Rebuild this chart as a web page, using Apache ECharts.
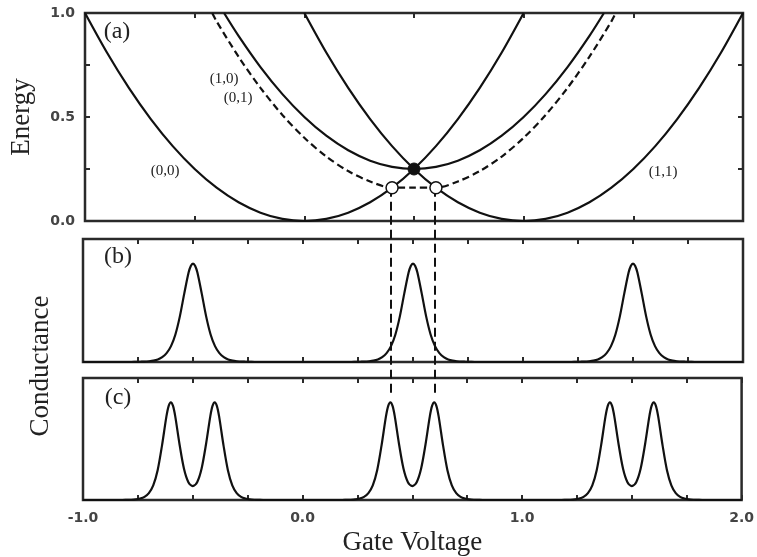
<!DOCTYPE html>
<html><head><meta charset="utf-8">
<script src="https://cdn.jsdelivr.net/npm/echarts@6/dist/echarts.min.js"></script>
<style>html,body{margin:0;padding:0;background:#fff}#c{width:757px;height:557px}</style>
</head><body><div id="c"></div>
<script>
// Panel (a): energy parabolas [gate voltage, energy]
const curve00 = [[-1.0,1.00],[-0.9,0.81],[-0.8,0.64],[-0.7,0.49],[-0.6,0.36],[-0.5,0.25],[-0.4,0.16],[-0.3,0.09],[-0.2,0.04],[-0.1,0.01],[0.0,0.00],[0.1,0.01],[0.2,0.04],[0.3,0.09],[0.4,0.16],[0.5,0.25],[0.6,0.36],[0.7,0.49],[0.8,0.64],[0.9,0.81],[1.0,1.00]];
const curve11 = [[0.0,1.00],[0.1,0.81],[0.2,0.64],[0.3,0.49],[0.4,0.36],[0.5,0.25],[0.6,0.16],[0.7,0.09],[0.8,0.04],[0.9,0.01],[1.0,0.00],[1.1,0.01],[1.2,0.04],[1.3,0.09],[1.4,0.16],[1.5,0.25],[1.6,0.36],[1.7,0.49],[1.8,0.64],[1.9,0.81],[2.0,1.00]];
const curve10 = [[-0.366,1.00],[-0.3,0.89],[-0.2,0.74],[-0.1,0.61],[0.0,0.50],[0.1,0.41],[0.2,0.34],[0.3,0.29],[0.4,0.26],[0.5,0.25],[0.6,0.26],[0.7,0.29],[0.8,0.34],[0.9,0.41],[1.0,0.50],[1.1,0.61],[1.2,0.74],[1.3,0.89],[1.366,1.00]];
const curve01 = [[-0.42,1.00],[-0.4,0.96],[-0.3,0.79],[-0.2,0.64],[-0.1,0.51],[0.0,0.40],[0.1,0.31],[0.2,0.24],[0.3,0.19],[0.4,0.16],[0.5,0.16],[0.6,0.16],[0.7,0.19],[0.8,0.24],[0.9,0.31],[1.0,0.40],[1.1,0.51],[1.2,0.64],[1.3,0.79],[1.4,0.96],[1.42,1.00]];
const filledPoints = [[0.5,0.25]];
const openPoints = [[0.4,0.16],[0.6,0.16]];
// connectors (overlay scale, energy units continued below panel a)
const connectorLeft = [[0.4,0.16],[0.4,-0.85]];
const connectorRight = [[0.6,0.16],[0.6,-0.85]];
// Panel (b): conductance, single peaks
const condB = [[-1.0,0],[-0.78,0],[-0.76,0.001],[-0.74,0.002],[-0.72,0.003],[-0.70,0.006],[-0.68,0.011],[-0.66,0.021],[-0.64,0.039],[-0.62,0.072],[-0.60,0.129],[-0.58,0.224],[-0.56,0.369],[-0.54,0.554],[-0.52,0.727],[-0.51,0.781],[-0.50,0.800],[-0.49,0.781],[-0.48,0.727],[-0.46,0.554],[-0.44,0.369],[-0.42,0.224],[-0.40,0.129],[-0.38,0.072],[-0.36,0.039],[-0.34,0.021],[-0.32,0.011],[-0.30,0.006],[-0.28,0.003],[-0.26,0.002],[-0.24,0.001],[-0.22,0],
 [0.22,0],[0.24,0.001],[0.26,0.002],[0.28,0.003],[0.30,0.006],[0.32,0.011],[0.34,0.021],[0.36,0.039],[0.38,0.072],[0.40,0.129],[0.42,0.224],[0.44,0.369],[0.46,0.554],[0.48,0.727],[0.49,0.781],[0.50,0.800],[0.51,0.781],[0.52,0.727],[0.54,0.554],[0.56,0.369],[0.58,0.224],[0.60,0.129],[0.62,0.072],[0.64,0.039],[0.66,0.021],[0.68,0.011],[0.70,0.006],[0.72,0.003],[0.74,0.002],[0.76,0.001],[0.78,0],
 [1.22,0],[1.24,0.001],[1.26,0.002],[1.28,0.003],[1.30,0.006],[1.32,0.011],[1.34,0.021],[1.36,0.039],[1.38,0.072],[1.40,0.129],[1.42,0.224],[1.44,0.369],[1.46,0.554],[1.48,0.727],[1.49,0.781],[1.50,0.800],[1.51,0.781],[1.52,0.727],[1.54,0.554],[1.56,0.369],[1.58,0.224],[1.60,0.129],[1.62,0.072],[1.64,0.039],[1.66,0.021],[1.68,0.011],[1.70,0.006],[1.72,0.003],[1.74,0.002],[1.76,0.001],[1.78,0],[2.0,0]];
// Panel (c): conductance, split peaks
const condC = [[-1.0,0],[-0.82,0],[-0.80,0.001],[-0.78,0.002],[-0.76,0.005],[-0.74,0.012],[-0.72,0.026],[-0.70,0.057],[-0.68,0.120],[-0.66,0.244],[-0.64,0.448],[-0.62,0.685],[-0.61,0.770],[-0.60,0.801],[-0.59,0.771],[-0.58,0.687],[-0.56,0.453],[-0.54,0.256],[-0.52,0.146],[-0.50,0.113],[-0.48,0.146],[-0.46,0.256],[-0.44,0.453],[-0.42,0.687],[-0.41,0.771],[-0.40,0.801],[-0.39,0.770],[-0.38,0.685],[-0.36,0.448],[-0.34,0.244],[-0.32,0.120],[-0.30,0.057],[-0.28,0.026],[-0.26,0.012],[-0.24,0.005],[-0.22,0.002],[-0.20,0.001],[-0.18,0],
 [0.18,0],[0.20,0.001],[0.22,0.002],[0.24,0.005],[0.26,0.012],[0.28,0.026],[0.30,0.057],[0.32,0.120],[0.34,0.244],[0.36,0.448],[0.38,0.685],[0.39,0.770],[0.40,0.801],[0.41,0.771],[0.42,0.687],[0.44,0.453],[0.46,0.256],[0.48,0.146],[0.50,0.113],[0.52,0.146],[0.54,0.256],[0.56,0.453],[0.58,0.687],[0.59,0.771],[0.60,0.801],[0.61,0.770],[0.62,0.685],[0.64,0.448],[0.66,0.244],[0.68,0.120],[0.70,0.057],[0.72,0.026],[0.74,0.012],[0.76,0.005],[0.78,0.002],[0.80,0.001],[0.82,0],
 [1.18,0],[1.20,0.001],[1.22,0.002],[1.24,0.005],[1.26,0.012],[1.28,0.026],[1.30,0.057],[1.32,0.120],[1.34,0.244],[1.36,0.448],[1.38,0.685],[1.39,0.770],[1.40,0.801],[1.41,0.771],[1.42,0.687],[1.44,0.453],[1.46,0.256],[1.48,0.146],[1.50,0.113],[1.52,0.146],[1.54,0.256],[1.56,0.453],[1.58,0.687],[1.59,0.771],[1.60,0.801],[1.61,0.770],[1.62,0.685],[1.64,0.448],[1.66,0.244],[1.68,0.120],[1.70,0.057],[1.72,0.026],[1.74,0.012],[1.76,0.005],[1.78,0.002],[1.80,0.001],[1.82,0],[2.0,0]];

const INK = '#111';
const FRAME = '#2a2a2a';
const serif = 'Liberation Serif';
const tickFont = 'DejaVu Sans';

function xAx(grid, pos, interval, labels) {
  return {
    type: 'value', gridIndex: grid, position: pos, min: -1, max: 2, interval: interval,
    axisLine: { show: false, onZero: false },
    axisTick: { show: true, inside: true, length: 5, lineStyle: { color: FRAME, width: 2 } },
    axisLabel: labels ? { show: true, margin: 11, fontFamily: tickFont, fontWeight: 'bold', fontSize: 14, color: '#444',
      formatter: v => Number.isInteger(v) ? v.toFixed(1) : '' } : { show: false },
    splitLine: { show: false }
  };
}
function yAx(grid, pos, ticks, labels) {
  return {
    type: 'value', gridIndex: grid, position: pos, min: 0, max: 1, interval: 0.25,
    axisLine: { show: false, onZero: false },
    axisTick: { show: ticks, inside: true, length: 5, lineStyle: { color: FRAME, width: 2 } },
    axisLabel: labels ? { show: true, margin: 10, fontFamily: tickFont, fontWeight: 'bold', fontSize: 14, color: '#444',
      formatter: v => (Math.abs(v * 2 - Math.round(v * 2)) < 1e-9) ? v.toFixed(1) : '' } : { show: false },
    splitLine: { show: false }
  };
}
const lineS = (data, xi, yi, dashed, smooth) => ({
  type: 'line', data: data, xAxisIndex: xi, yAxisIndex: yi, showSymbol: false, symbol: 'none',
  smooth: smooth, lineStyle: { color: INK, width: 2.2, type: dashed ? [7, 4] : 'solid' }, z: 3, silent: true
});

const gridStyle = { show: true, borderColor: FRAME, borderWidth: 2.5, backgroundColor: 'transparent' };
const yEnergy = yAx(0, 'left', true, true);
yEnergy.name = 'Energy'; yEnergy.nameLocation = 'middle'; yEnergy.nameGap = 50; yEnergy.nameRotate = 90;
yEnergy.nameTextStyle = { fontFamily: serif, fontSize: 27, color: '#222' };
const xGate = xAx(2, 'bottom', 0.25, true);
xGate.name = 'Gate Voltage'; xGate.nameLocation = 'middle'; xGate.nameGap = 29;
xGate.nameTextStyle = { fontFamily: serif, fontSize: 27, color: '#222' };

const option = {
  animation: false,
  backgroundColor: '#fff',
  grid: [
    Object.assign({ left: 83, top: 13, width: 660, height: 208 }, gridStyle),
    Object.assign({ left: 83, top: 239, width: 660, height: 123 }, gridStyle),
    Object.assign({ left: 83, top: 378, width: 660, height: 122 }, gridStyle),
    { left: 83, top: 13, width: 660, height: 487, show: false }
  ],
  xAxis: [
    xAx(0, 'bottom', 0.5, false), xAx(0, 'top', 0.5, false),
    xAx(1, 'bottom', 0.25, false), xAx(1, 'top', 0.25, false),
    xGate, xAx(2, 'top', 0.25, false),
    { type: 'value', gridIndex: 3, min: -1, max: 2, show: false }
  ],
  yAxis: [
    yEnergy, yAx(0, 'right', true, false),
    yAx(1, 'left', false, false),
    yAx(2, 'left', false, false),
    { type: 'value', gridIndex: 3, min: -1.3413, max: 1, show: false }
  ],
  series: [
    lineS(curve00, 0, 0, false, 0.3),
    lineS(curve11, 0, 0, false, 0.3),
    lineS(curve10, 0, 0, false, 0.3),
    lineS(curve01, 0, 0, true, 0.3),
    lineS(condB, 2, 2, false, 0.3),
    lineS(condC, 4, 3, false, 0.3),
    { type: 'line', data: connectorLeft, xAxisIndex: 6, yAxisIndex: 4, symbol: 'none', z: 4, silent: true,
      lineStyle: { color: INK, width: 2, type: [9, 5] } },
    { type: 'line', data: connectorRight, xAxisIndex: 6, yAxisIndex: 4, symbol: 'none', z: 4, silent: true,
      lineStyle: { color: INK, width: 2, type: [9, 5] } },
    { type: 'scatter', data: openPoints, xAxisIndex: 0, yAxisIndex: 0, symbol: 'circle', symbolSize: 12, z: 6, silent: true,
      itemStyle: { color: '#fff', borderColor: INK, borderWidth: 1.5, opacity: 1 } },
    { type: 'scatter', data: filledPoints, xAxisIndex: 0, yAxisIndex: 0, symbol: 'circle', symbolSize: 12, z: 6, silent: true,
      itemStyle: { color: INK, borderColor: INK, borderWidth: 1, opacity: 1 } }
  ],
  graphic: [
    { type: 'text', x: 117, y: 32, style: { text: '(a)', font: '24px "Liberation Serif"', fill: '#222', textAlign: 'center', textVerticalAlign: 'middle' } },
    { type: 'text', x: 224, y: 79, style: { text: '(1,0)', font: '15px "Liberation Serif"', fill: '#222', textAlign: 'center', textVerticalAlign: 'middle' } },
    { type: 'text', x: 238, y: 98, style: { text: '(0,1)', font: '15px "Liberation Serif"', fill: '#222', textAlign: 'center', textVerticalAlign: 'middle' } },
    { type: 'text', x: 165, y: 171, style: { text: '(0,0)', font: '15px "Liberation Serif"', fill: '#222', textAlign: 'center', textVerticalAlign: 'middle' } },
    { type: 'text', x: 663, y: 172, style: { text: '(1,1)', font: '15px "Liberation Serif"', fill: '#222', textAlign: 'center', textVerticalAlign: 'middle' } },
    { type: 'text', x: 118, y: 257, style: { text: '(b)', font: '24px "Liberation Serif"', fill: '#222', textAlign: 'center', textVerticalAlign: 'middle' } },
    { type: 'text', x: 118, y: 398, style: { text: '(c)', font: '24px "Liberation Serif"', fill: '#222', textAlign: 'center', textVerticalAlign: 'middle' } },
    { type: 'text', x: 41, y: 366, rotation: Math.PI / 2, style: { text: 'Conductance', font: '27px "Liberation Serif"', fill: '#222', textAlign: 'center', textVerticalAlign: 'middle' } }
  ]
};
echarts.init(document.getElementById('c'), null, { renderer: 'canvas' }).setOption(option);
</script>
</body></html>
